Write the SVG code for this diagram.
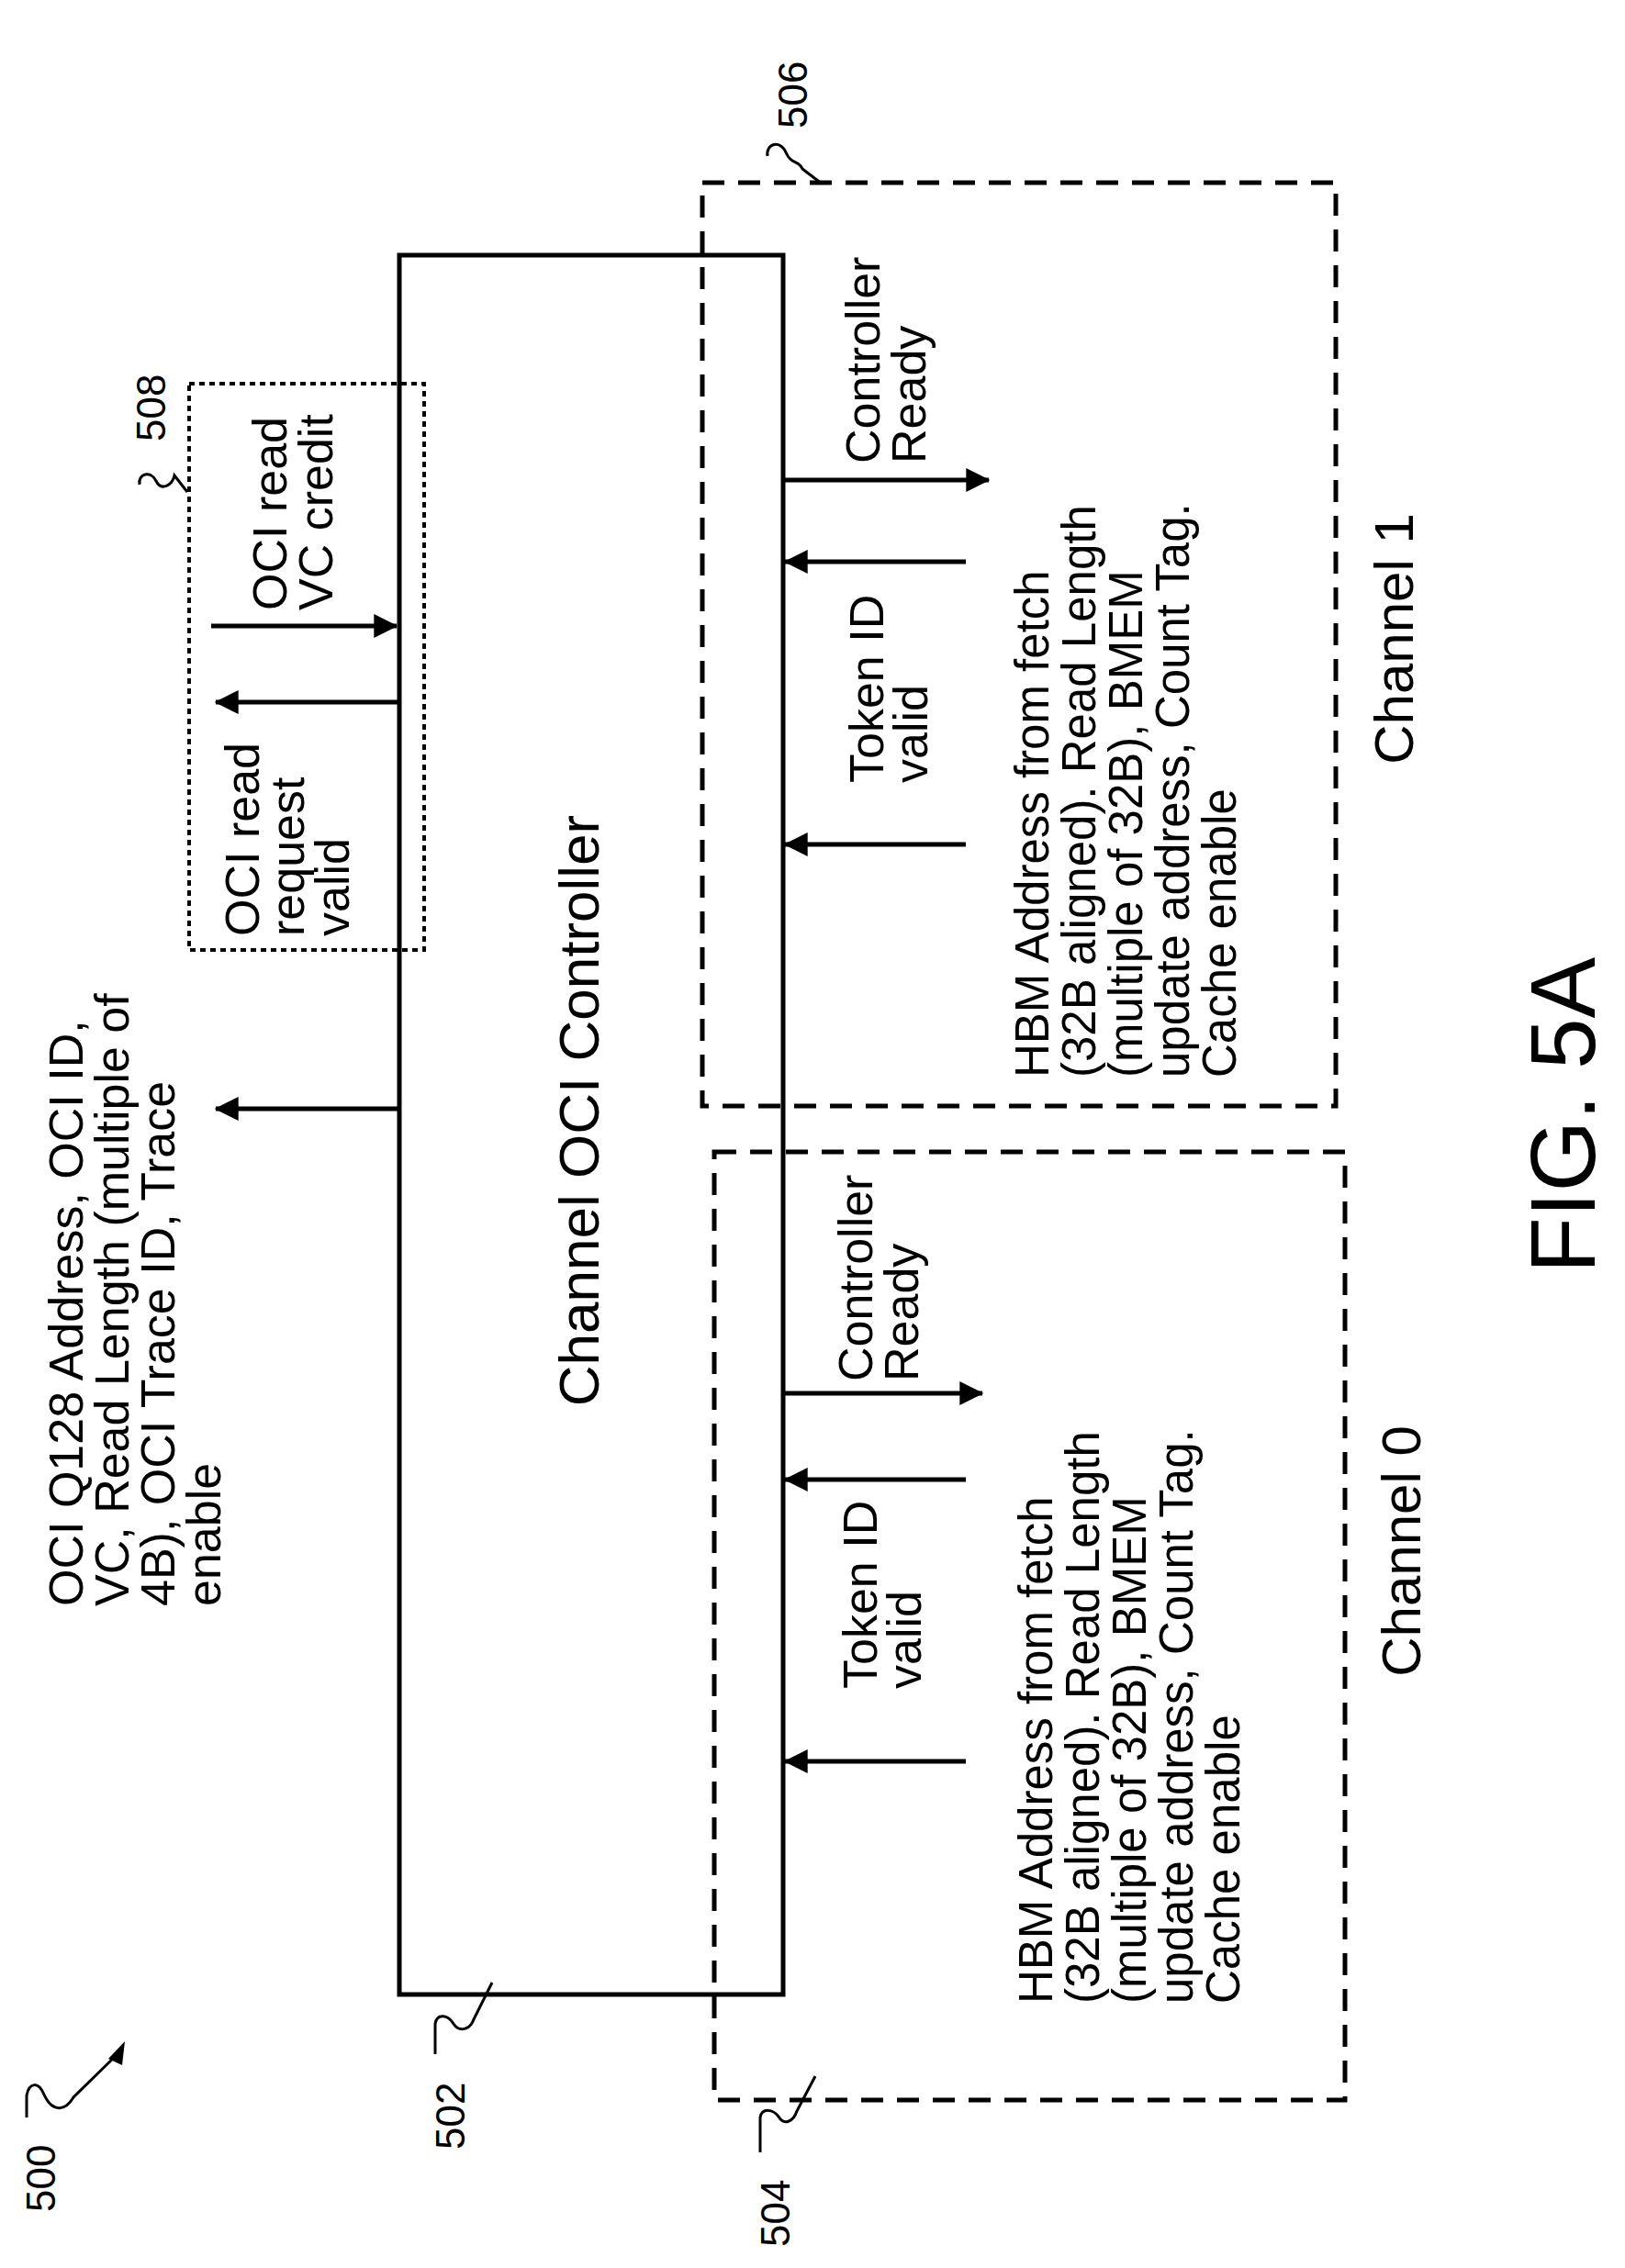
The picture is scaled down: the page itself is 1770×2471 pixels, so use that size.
<svg xmlns="http://www.w3.org/2000/svg" width="1770" height="2471" viewBox="0 0 1770 2471">
<style>
text{font-family:"Liberation Sans",Arial,sans-serif;fill:#000;font-size:52px}
.hbm{font-size:51px}
.big{font-size:62px}
.ch{font-size:60px}
.num{font-size:44px}
.fig{font-size:100px}
.ln{stroke:#000;stroke-width:5;fill:none}
.thin{stroke:#000;stroke-width:3;fill:none}
</style>
<defs>
<marker id="ah" viewBox="0 0 10 10" refX="9.5" refY="5" markerWidth="28" markerHeight="26" markerUnits="userSpaceOnUse" orient="auto">
<path d="M0,0 L10,5 L0,10 z" fill="#000"/>
</marker>
</defs>
<g id="n502"><rect x="435" y="278" width="418" height="1895" class="ln"/>
<text class="big" transform="translate(652,1210) rotate(-90)" text-anchor="middle">Channel OCI Controller</text></g>
<g id="n506"><rect x="765" y="199" width="690" height="1006" fill="none" stroke="#000" stroke-width="5" stroke-dasharray="24,15"/>
<text transform="translate(958,505) rotate(-90)"><tspan x="0">Controller</tspan><tspan x="0" dy="50">Ready</tspan></text>
<text transform="translate(962,853) rotate(-90)"><tspan x="0">Token ID</tspan><tspan x="0" dy="48">valid</tspan></text>
<text class="hbm" transform="translate(1142,1174) rotate(-90)"><tspan x="0">HBM Address  from fetch</tspan><tspan x="0" dy="51">(32B aligned). Read Length</tspan><tspan x="0" dy="51">(multiple of 32B), BMEM</tspan><tspan x="0" dy="51">update address, Count Tag.</tspan><tspan x="0" dy="51">Cache enable</tspan></text>
<text class="ch" transform="translate(1539,696) rotate(-90)" text-anchor="middle">Channel 1</text></g>
<g id="n504"><rect x="778" y="1255" width="687" height="1033" fill="none" stroke="#000" stroke-width="5" stroke-dasharray="24,15"/>
<text transform="translate(950,1505) rotate(-90)"><tspan x="0">Controller</tspan><tspan x="0" dy="50">Ready</tspan></text>
<text transform="translate(955,1840) rotate(-90)"><tspan x="0">Token ID</tspan><tspan x="0" dy="48">valid</tspan></text>
<text class="hbm" transform="translate(1146,2183) rotate(-90)"><tspan x="0">HBM Address  from fetch</tspan><tspan x="0" dy="51">(32B aligned). Read Length</tspan><tspan x="0" dy="51">(multiple of 32B), BMEM</tspan><tspan x="0" dy="51">update address, Count Tag.</tspan><tspan x="0" dy="51">Cache enable</tspan></text>
<text class="ch" transform="translate(1547,1690) rotate(-90)" text-anchor="middle">Channel 0</text></g>
<g id="n508"><rect x="206" y="418" width="256" height="617" fill="none" stroke="#000" stroke-width="4" stroke-dasharray="6,5"/>
<text transform="translate(282,1020) rotate(-90)"><tspan x="0">OCI read</tspan><tspan x="0" dy="49">request</tspan><tspan x="0" dy="49">valid</tspan></text>
<text transform="translate(312,665) rotate(-90)"><tspan x="0">OCI read</tspan><tspan x="0" dy="50">VC credit</tspan></text></g>
<g id="out"><text transform="translate(90,1750) rotate(-90)"><tspan x="0">OCI Q128 Address, OCI ID,</tspan><tspan x="0" dy="50">VC,  Read Length (multiple of</tspan><tspan x="0" dy="50">4B), OCI Trace ID, Trace</tspan><tspan x="0" dy="50">enable</tspan></text></g>
<g id="connectors" class="ln">
<line x1="435" y1="1208" x2="235" y2="1208" marker-end="url(#ah)"/>
<line x1="435" y1="765" x2="235" y2="765" marker-end="url(#ah)"/>
<line x1="230" y1="682" x2="432" y2="682" marker-end="url(#ah)"/>
<line x1="853" y1="523" x2="1077" y2="523" marker-end="url(#ah)"/>
<line x1="1052" y1="612" x2="855" y2="612" marker-end="url(#ah)"/>
<line x1="1052" y1="920" x2="855" y2="920" marker-end="url(#ah)"/>
<line x1="853" y1="1518" x2="1070" y2="1518" marker-end="url(#ah)"/>
<line x1="1052" y1="1612" x2="855" y2="1612" marker-end="url(#ah)"/>
<line x1="1052" y1="1919" x2="855" y2="1919" marker-end="url(#ah)"/>
</g>
<g id="labels">
<text class="num" transform="translate(879,140) rotate(-90)">506</text>
<path class="thin" d="M836,170 C834,156 850,152 856,166 C862,180 870,174 874,184 L895,200"/>
<text class="num" transform="translate(180,481) rotate(-90)">508</text>
<path class="thin" d="M152,528 C150,516 164,512 170,524 C176,536 188,528 190,518 L204,536"/>
<text class="num" transform="translate(506,2342) rotate(-90)">502</text>
<path class="thin" d="M474,2238 L474,2205 C476,2193 488,2195 494,2205 C500,2214 512,2212 516,2200 L536,2160"/>
<text class="num" transform="translate(860,2448) rotate(-90)">504</text>
<path class="thin" d="M828,2345 L828,2307 C830,2296 842,2298 848,2306 C854,2316 864,2312 868,2300 L888,2262"/>
<text class="num" transform="translate(60,2410) rotate(-90)">500</text>
<path class="thin" d="M29,2307 L29,2283 C32,2268 42,2268 48,2282 C56,2300 70,2302 80,2285 L128,2238"/>
<path d="M136,2224 L118,2243 L133,2250 z" fill="#000"/>
<text class="fig" transform="translate(1737,1215) rotate(-90)" text-anchor="middle">FIG. 5A</text>
</g>
</svg>
